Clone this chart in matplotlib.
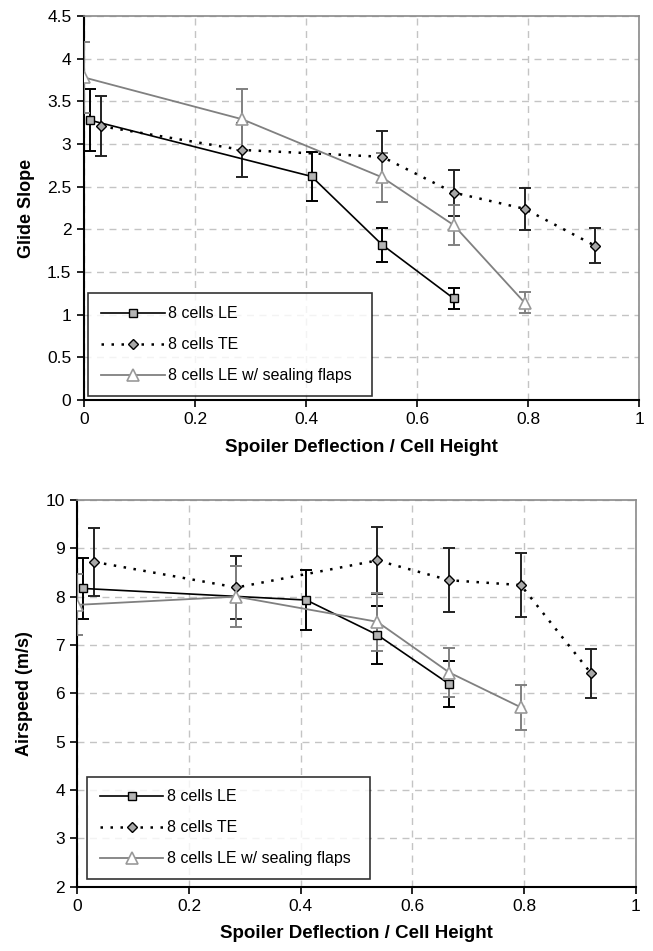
import matplotlib.pyplot as plt

plt.rcParams['font.family'] = ['Liberation Sans', 'DejaVu Sans']

# spoiler deflection / cell height
x_le = [0.01, 0.41, 0.537, 0.666]
x_te = [0.03, 0.285, 0.537, 0.666, 0.794, 0.92]
x_sf = [0.0, 0.285, 0.537, 0.666, 0.794]

# glide slope
gs_le = [3.28, 2.62, 1.82, 1.19]
gs_le_err = [0.36, 0.29, 0.20, 0.12]
gs_te = [3.21, 2.93, 2.85, 2.43, 2.24, 1.81]
gs_te_err = [0.35, 0.32, 0.30, 0.27, 0.25, 0.20]
gs_sf = [3.78, 3.29, 2.61, 2.05, 1.14]
gs_sf_err = [0.42, 0.36, 0.29, 0.23, 0.12]

# airspeed (m/s)
as_le = [8.17, 7.93, 7.21, 6.19]
as_le_err = [0.64, 0.63, 0.60, 0.48]
as_te = [8.72, 8.19, 8.75, 8.34, 8.24, 6.41]
as_te_err = [0.70, 0.66, 0.69, 0.66, 0.66, 0.51]
as_sf = [7.83, 8.00, 7.48, 6.43, 5.71]
as_sf_err = [0.63, 0.63, 0.60, 0.51, 0.47]

labels = ['8 cells LE', '8 cells TE', '8 cells LE w/ sealing flaps']
xticks = [0, 0.2, 0.4, 0.6, 0.8, 1]


def draw(ax, ys, errs, ylim, yticks, ylabel, legend_box):
    xs = [x_le, x_te, x_sf]
    err_colors = ['black', '#222222', '#808080']
    for x, y, e, c in zip(xs, ys, errs, err_colors):
        ax.errorbar(x, y, yerr=e, fmt='none', ecolor=c, elinewidth=1.4,
                    capsize=4, capthick=1.4, zorder=3)

    ax.plot(x_le, ys[0], color='black', lw=1.2, marker='s', ms=6,
            mfc='#b4b4b4', mec='black', mew=1.0, label=labels[0], zorder=4)
    ax.plot(x_te, ys[1], color='black', lw=1.8, ls=(0, (1, 3)), marker='D',
            ms=5.5, mfc='#a8a8a8', mec='black', mew=1.0, label=labels[1], zorder=4)
    ax.plot(x_sf, ys[2], color='#808080', lw=1.3, marker='^', ms=8,
            mfc='white', mec='#999999', mew=1.2, label=labels[2], zorder=4)

    ax.set_xlim(0, 1)
    ax.set_ylim(*ylim)
    ax.set_xticks(xticks)
    ax.set_xticklabels(['0', '0.2', '0.4', '0.6', '0.8', '1'])
    ax.set_yticks(yticks)
    ax.set_yticklabels(['%g' % t for t in yticks])
    ax.grid(True, color='#c4c4c4', ls=(0, (5, 4)), lw=1.0)
    ax.set_axisbelow(True)
    ax.tick_params(direction='out', length=5, width=1.2, labelsize=12.5,
                   pad=4)
    for s in ['left', 'bottom']:
        ax.spines[s].set_color('black')
        ax.spines[s].set_linewidth(1.5)
    for s in ['top', 'right']:
        ax.spines[s].set_color('#8a8a8a')
        ax.spines[s].set_linewidth(1.2)
    ax.set_xlabel('Spoiler Deflection / Cell Height', fontsize=13.5,
                  fontweight='bold', labelpad=8)
    ax.set_ylabel(ylabel, fontsize=13, fontweight='bold', labelpad=9)

    leg = ax.legend(loc='lower left', bbox_to_anchor=legend_box, mode='expand',
                    fontsize=11.5, frameon=True, fancybox=False, borderpad=0.8,
                    labelspacing=1.0, handlelength=4.0, handletextpad=0.2,
                    borderaxespad=0)
    leg.get_frame().set_edgecolor('black')
    leg.get_frame().set_linewidth(1.2)
    leg.set_zorder(5)


fig = plt.figure(figsize=(6.53, 9.51), dpi=100)
ax1 = fig.add_axes([0.1286, 0.5794, 0.85, 0.4038])
ax2 = fig.add_axes([0.1184, 0.0678, 0.8553, 0.4064])

draw(ax1, [gs_le, gs_te, gs_sf], [gs_le_err, gs_te_err, gs_sf_err],
     (0, 4.5), [0, 0.5, 1, 1.5, 2, 2.5, 3, 3.5, 4, 4.5], 'Glide Slope',
     (0.007, 0.0104, 0.512, 0.268))
draw(ax2, [as_le, as_te, as_sf], [as_le_err, as_te_err, as_sf_err],
     (2, 10), [2, 3, 4, 5, 6, 7, 8, 9, 10], 'Airspeed (m/s)',
     (0.017, 0.019, 0.507, 0.266))

fig.savefig('out.png', dpi=100)
